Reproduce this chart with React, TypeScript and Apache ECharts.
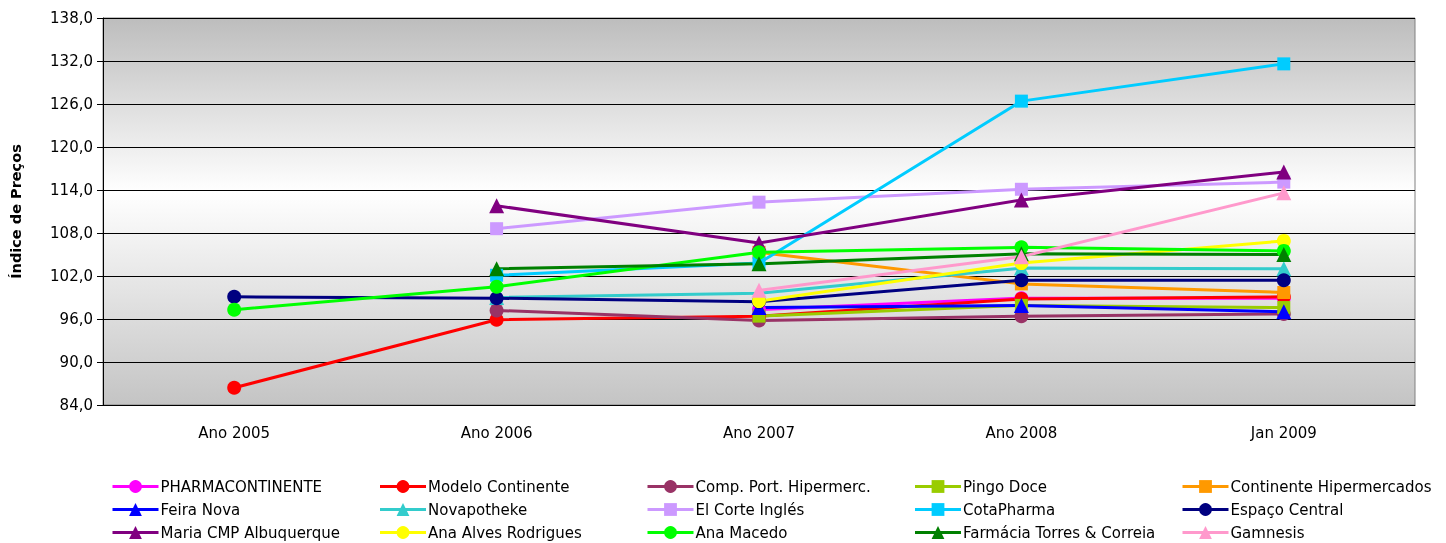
import React, { useEffect, useRef } from "react";
import * as echarts from "echarts";

const categories = ["Ano 2005", "Ano 2006", "Ano 2007", "Ano 2008", "Jan 2009"];
const yTicks = { min: 84, max: 138, interval: 6 };

const seriesNames = [
  "PHARMACONTINENTE",
  "Modelo Continente",
  "Comp. Port. Hipermerc.",
  "Pingo Doce",
  "Continente Hipermercados",
  "Feira Nova",
  "Novapotheke",
  "El Corte Inglés",
  "CotaPharma",
  "Espaço Central",
  "Maria CMP Albuquerque",
  "Ana Alves Rodrigues",
  "Ana Macedo",
  "Farmácia Torres & Correia",
  "Gamnesis",
];

const pharmacontinente = [null, null, 97.3, 98.9, 98.9];
const modeloContinente = [86.4, 95.9, 96.4, 98.8, 99.1];
const compPort = [null, 97.2, 95.8, 96.4, 96.7];
const pingoDoce = [null, null, 96.4, 97.9, 97.6];
const continenteHiper = [null, null, 105.3, 100.9, 99.7];
const feiraNova = [null, null, 97.6, 97.9, 97.0];
const novapotheke = [null, 99.0, 99.6, 103.1, 103.0];
const elCorteIngles = [null, 108.6, 112.3, 114.1, 115.1];
const cotaPharma = [null, 102.1, 103.8, 126.4, 131.6];
const espacoCentral = [99.1, 98.9, 98.4, 101.4, 101.4];
const mariaCMP = [null, 111.8, 106.6, 112.6, 116.5];
const anaAlves = [null, null, 98.5, 103.8, 106.9];
const anaMacedo = [97.3, 100.5, 105.3, 106.0, 105.5];
const farmaciaTorres = [null, 103.0, 103.7, 105.1, 105.0];
const gamnesis = [null, null, 100.0, 104.7, 113.6];

const seriesData = [
  pharmacontinente, modeloContinente, compPort, pingoDoce, continenteHiper,
  feiraNova, novapotheke, elCorteIngles, cotaPharma, espacoCentral,
  mariaCMP, anaAlves, anaMacedo, farmaciaTorres, gamnesis,
];

const colors = [
  "#FF00FF", "#FF0000", "#993366", "#99CC00", "#FF9900",
  "#0000FF", "#33CCCC", "#CC99FF", "#00CCFF", "#000080",
  "#800080", "#FFFF00", "#00FF00", "#008000", "#FF99CC",
];

const symbols = [
  "circle", "circle", "circle", "rect", "rect",
  "triangle", "triangle", "rect", "rect", "circle",
  "triangle", "circle", "circle", "triangle", "triangle",
];

const FONT = "DejaVu Sans";

export default function App() {
  const ref = useRef<HTMLDivElement>(null);
  useEffect(() => {
    if (!ref.current) return;
    const chart = echarts.init(ref.current, null, { renderer: "svg" });
    const legends = [0, 1, 2, 3, 4].map((col) => ({
      orient: "vertical" as const,
      left: 111 + col * 267.5,
      top: 479,
      padding: 0,
      itemWidth: 46,
      itemHeight: 16,
      itemGap: 8,
      lineStyle: { width: 3 },
      data: [seriesNames[col], seriesNames[col + 5], seriesNames[col + 10]],
      textStyle: { fontFamily: FONT, fontSize: 15, color: "#000", padding: [0, 0, 0, -3] },
    }));
    chart.setOption({
      animation: false,
      color: colors,
      grid: {
        left: 103,
        right: 31,
        top: 18,
        bottom: 138,
        show: true,
        borderColor: "#808080",
        borderWidth: 1,
        backgroundColor: {
          type: "linear",
          x: 0, y: 0, x2: 0, y2: 1,
          colorStops: [
            { offset: 0, color: "#bdbdbd" },
            { offset: 0.45, color: "#ffffff" },
            { offset: 1, color: "#c4c4c4" },
          ],
        },
      },
      legend: legends,
      xAxis: {
        type: "category",
        data: categories,
        boundaryGap: true,
        axisLine: { lineStyle: { color: "#000", width: 1 } },
        axisTick: { show: false },
        axisLabel: { fontFamily: FONT, fontSize: 15, color: "#000", margin: 20 },
      },
      yAxis: {
        type: "value",
        min: yTicks.min,
        max: yTicks.max,
        interval: yTicks.interval,
        name: "Índice de Preços",
        nameLocation: "middle",
        nameGap: 80,
        nameTextStyle: { fontFamily: FONT, fontSize: 14.5, fontWeight: "bold", color: "#000" },
        axisLine: { show: true, lineStyle: { color: "#000", width: 1 } },
        axisTick: { show: true, length: 6, lineStyle: { color: "#000" } },
        axisLabel: {
          fontFamily: FONT,
          fontSize: 15,
          color: "#000",
          margin: 10,
          formatter: (v: number) => v.toFixed(1).replace(".", ","),
        },
        splitLine: { show: true, lineStyle: { color: "#000", width: 1 } },
      },
      series: seriesNames.map((name, i) => ({
        name,
        type: "line",
        data: seriesData[i],
        symbol: symbols[i],
        symbolSize: symbols[i] === "triangle" ? 15 : symbols[i] === "rect" ? 13 : 14,
        showAllSymbol: true,
        lineStyle: { width: 3, color: colors[i] },
        itemStyle: { color: colors[i], borderWidth: 0 },
        emphasis: { disabled: true },
      })),
    });
    return () => chart.dispose();
  }, []);
  return (
    <div
      ref={ref}
      style={{ position: "fixed", left: 0, top: 0, width: 1446, height: 543 }}
    />
  );
}
